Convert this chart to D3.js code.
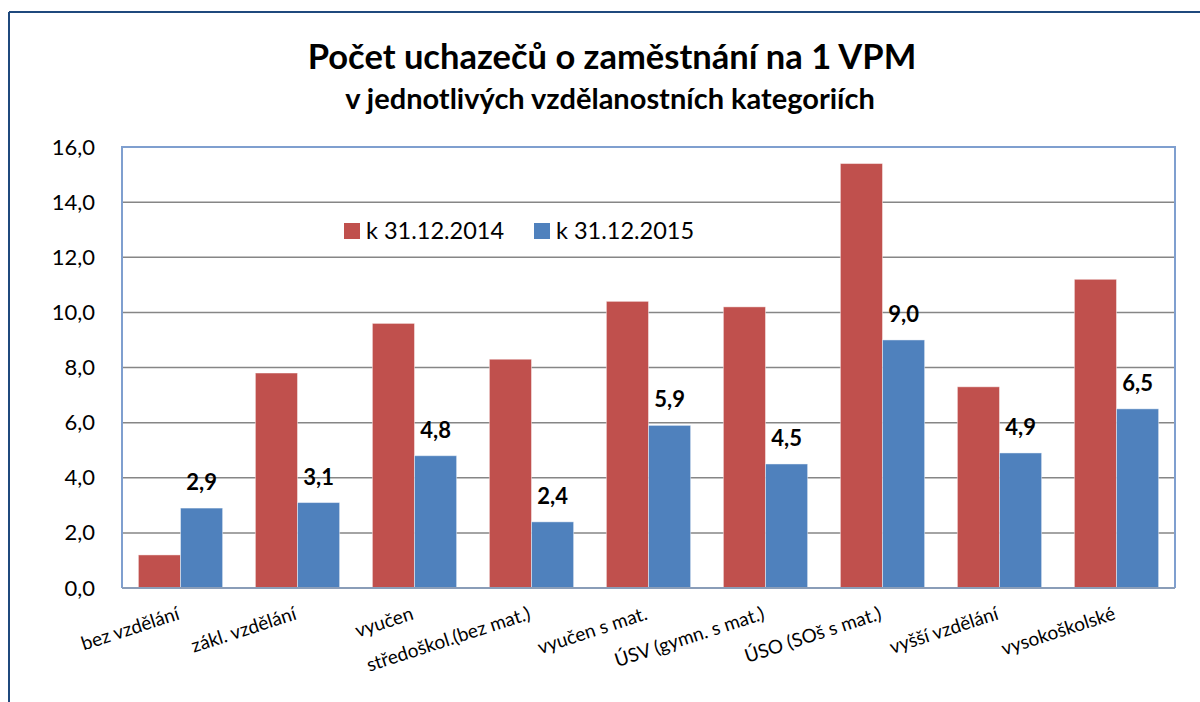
<!DOCTYPE html>
<meta charset="utf-8">
<style>
body {
  margin: 0;
  background: #fff;
  font-family: Lato, "Open Sans", sans-serif;
}
.grid line {
  stroke: #868686;
  stroke-width: 1.5;
}
</style>
<body>
<script src="https://cdn.jsdelivr.net/npm/d3@7"></script>
<script>

var width = 1200,
    height = 702;

var categories = ["bez vzdělání", "zákl. vzdělání", "vyučen", "středoškol.(bez mat.)",
  "vyučen s mat.", "ÚSV (gymn. s mat.)", "ÚSO (SOš s mat.)", "vyšší vzdělání", "vysokoškolské"];
var seriesNames = ["k 31.12.2014", "k 31.12.2015"];
var values2014 = [1.2, 7.8, 9.6, 8.3, 10.4, 10.2, 15.4, 7.3, 11.2];
var values2015 = [2.9, 3.1, 4.8, 2.4, 5.9, 4.5, 9.0, 4.9, 6.5];
var yTicks = [0, 2, 4, 6, 8, 10, 12, 14, 16];
var colors = ["#C0504D", "#4F81BD"];

var margin = {top: 147, right: 25, bottom: 114, left: 122};

var svg = d3.select("body").append("svg")
    .attr("width", width)
    .attr("height", height);

// outer frame (only top + left edge visible)
svg.append("line")
    .attr("x1", 9).attr("x2", width).attr("y1", 12).attr("y2", 12)
    .attr("stroke", "#1F497D").attr("stroke-width", 2);
svg.append("line")
    .attr("x1", 9).attr("x2", 9).attr("y1", 12).attr("y2", height)
    .attr("stroke", "#1F497D").attr("stroke-width", 2);

svg.append("text")
    .attr("x", 612).attr("y", 69)
    .attr("text-anchor", "middle")
    .attr("font-weight", "bold")
    .attr("font-size", 34.5)
    .text("Počet uchazečů o zaměstnání na 1 VPM");

svg.append("text")
    .attr("x", 610).attr("y", 109)
    .attr("text-anchor", "middle")
    .attr("font-weight", "bold")
    .attr("font-size", 29)
    .text("v jednotlivých vzdělanostních kategoriích");

var x0 = d3.scaleBand()
    .domain(categories)
    .range([margin.left, width - margin.right])
    .paddingInner(0.28)
    .paddingOuter(0.14);

var x1 = d3.scaleBand()
    .domain(seriesNames)
    .range([0, x0.bandwidth()]);

var y = d3.scaleLinear()
    .domain([0, 16])
    .range([height - margin.bottom, margin.top]);

var color = d3.scaleOrdinal().domain(seriesNames).range(colors);

// gridlines
svg.append("g")
    .attr("class", "grid")
  .selectAll("line")
    .data(yTicks.slice(1, -1))
  .enter().append("line")
    .attr("x1", margin.left)
    .attr("x2", width - margin.right)
    .attr("y1", function(d) { return y(d); })
    .attr("y2", function(d) { return y(d); });

// y axis labels
var yAxis = d3.axisLeft(y)
    .tickValues(yTicks)
    .tickSize(0)
    .tickPadding(27)
    .tickFormat(function(d) { return d3.format(".1f")(d).replace(".", ","); });

svg.append("g")
    .attr("transform", "translate(" + margin.left + ",0)")
    .call(yAxis)
    .call(function(g) { g.select(".domain").remove(); })
    .selectAll("text")
    .attr("font-family", "Lato, sans-serif")
    .attr("font-size", 22)
    .attr("fill", "#000");

// bars
var rows = categories.map(function(c, i) {
  return {cat: c, vals: [
    {series: seriesNames[0], value: values2014[i]},
    {series: seriesNames[1], value: values2015[i]}
  ]};
});

var groups = svg.selectAll(".group")
    .data(rows)
  .enter().append("g")
    .attr("class", "group")
    .attr("transform", function(d) { return "translate(" + x0(d.cat) + ",0)"; });

groups.selectAll("rect")
    .data(function(d) { return d.vals; })
  .enter().append("rect")
    .attr("x", function(d) { return x1(d.series); })
    .attr("y", function(d) { return y(d.value); })
    .attr("width", x1.bandwidth())
    .attr("height", function(d) { return y(0) - y(d.value); })
    .attr("fill", function(d) { return color(d.series); })
    .attr("stroke", "rgba(255,255,255,0.45)")
    .attr("stroke-width", 1);

// data labels for 2015 series
groups.append("text")
    .attr("x", function(d) { return x1(seriesNames[1]) + x1.bandwidth() / 2; })
    .attr("y", function(d) { return y(d.vals[1].value) - 18; })
    .attr("text-anchor", "middle")
    .attr("font-weight", "bold")
    .attr("font-size", 22)
    .text(function(d) { return d3.format(".1f")(d.vals[1].value).replace(".", ","); });

// plot area border
svg.append("path")
    .attr("d", "M" + margin.left + "," + y(0) + "V" + margin.top + "H" + (width - margin.right) + "V" + y(0))
    .attr("fill", "none")
    .attr("stroke", "#7F9FCF")
    .attr("stroke-width", 2);
svg.append("line")
    .attr("x1", margin.left).attr("x2", width - margin.right)
    .attr("y1", y(0)).attr("y2", y(0))
    .attr("stroke", "#8A9DB8").attr("stroke-width", 2);

// x labels
svg.append("g")
  .selectAll("text")
    .data(categories)
  .enter().append("text")
    .attr("transform", function(d) {
      return "translate(" + (x0(d) + x0.bandwidth() / 2) + "," + (y(0) + 31) + ") rotate(-18)";
    })
    .attr("text-anchor", "end")
    .attr("font-size", 19)
    .text(function(d) { return d; });

// legend
var legend = svg.append("g")
    .attr("transform", "translate(344,223)");

var legendItems = legend.selectAll("g")
    .data(seriesNames)
  .enter().append("g")
    .attr("transform", function(d, i) { return "translate(" + (i * 190) + ",0)"; });

legendItems.append("rect")
    .attr("width", 16)
    .attr("height", 16)
    .attr("fill", function(d) { return color(d); });

legendItems.append("text")
    .attr("x", 22)
    .attr("y", 16)
    .attr("font-size", 23.5)
    .text(function(d) { return d; });

</script>
